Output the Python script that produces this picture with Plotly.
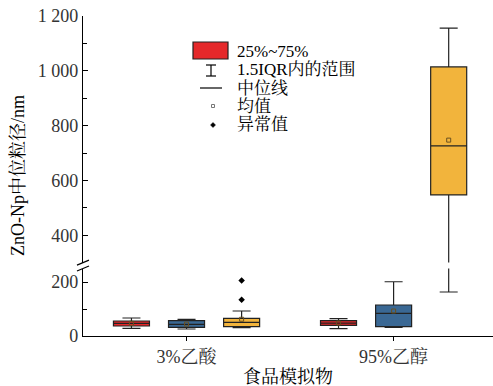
import plotly.graph_objects as go

# ---------------- data ----------------
categories = ["3%乙酸", "95%乙醇"]
series_names = ["red", "blue", "yellow"]
series_colors = ["#E5282A", "#3A6894", "#F2B43C"]

red_q1 = [37, 39.6]
red_median = [47, 48]
red_q3 = [55.6, 56.7]
red_lo = [28.5, 27]
red_hi = [66.7, 64]
red_mean = [47, 48]

blue_q1 = [32, 34.4]
blue_median = [43, 84]
blue_q3 = [56.7, 114.8]
blue_lo = [26, 32]
blue_hi = [61.7, 201]
blue_mean = [44, 92.6]

yellow_q1 = [34.4, 547]
yellow_median = [50.7, 726]
yellow_q3 = [65.5, 1014]
yellow_lo = [30.7, 163]
yellow_hi = [92.6, 1156]
yellow_mean = [62, 747]

yellow_outlier_cat = [0, 0]
yellow_outlier_val = [134, 206]

lower_ticks = [0, 200]
upper_ticks = [400, 600, 800, 1000, 1200]
lower_ticktext = ["0", "200"]
upper_ticktext = ["400", "600", "800", "1 000", "1 200"]

legend_labels = ["25%~75%", "1.5IQR内的范围", "中位线", "均值", "异常值"]

# ---------------- layout constants ----------------
W, H = 493, 386
ML, MR, MT, MB = 83, 0, 16, 50
PW, PH = W - ML - MR, H - MT - MB
offsets = [-0.266, 0.0, 0.266]
box_w = 0.174
FONT = "Liberation Serif, 'Times New Roman', 'Noto Serif CJK SC', 'Noto Sans CJK SC', serif"
TICKCOL = "#333333"


def px(x):
    return (x - ML) / PW


def py(y):
    return (H - MB - y) / PH


stats = [
    (red_q1, red_median, red_q3, red_lo, red_hi, red_mean),
    (blue_q1, blue_median, blue_q3, blue_lo, blue_hi, blue_mean),
    (yellow_q1, yellow_median, yellow_q3, yellow_lo, yellow_hi, yellow_mean),
]

fig = go.Figure()
for axis in ["y", "y2"]:
    for i, (q1, med, q3, lo, hi, mean) in enumerate(stats):
        xs = [c + 1 + offsets[i] for c in range(len(categories))]
        fig.add_trace(go.Box(
            x=xs, q1=q1, median=med, q3=q3, lowerfence=lo, upperfence=hi,
            width=box_w, fillcolor=series_colors[i],
            line=dict(color="#222222", width=1.2), whiskerwidth=0.5,
            boxpoints=False, showlegend=False, name=series_names[i],
            xaxis="x", yaxis=axis, hoverinfo="skip",
        ))
        fig.add_trace(go.Scatter(
            x=xs, y=mean, mode="markers",
            marker=dict(symbol="square-open", size=4, color="#6a5020",
                        line=dict(width=1)),
            showlegend=False, xaxis="x", yaxis=axis, hoverinfo="skip",
        ))
    fig.add_trace(go.Scatter(
        x=[c + 1 + offsets[2] for c in yellow_outlier_cat], y=yellow_outlier_val,
        mode="markers", marker=dict(symbol="diamond", size=5, color="black"),
        showlegend=False, xaxis="x", yaxis=axis, hoverinfo="skip",
    ))

lower_top = 67.5 / PH
upper_bot = 73.4 / PH

axis_common = dict(
    showline=True, linecolor="black", linewidth=1.2, ticks="inside",
    ticklen=5, tickwidth=1.2, tickcolor="black", showgrid=False, zeroline=False,
    tickfont=dict(family=FONT, size=18, color=TICKCOL),
    minor=dict(dtick=100, ticks="inside", ticklen=4, tickwidth=1.2, tickcolor="black", showgrid=False),
)

fig.update_layout(
    width=W, height=H,
    margin=dict(l=ML, r=MR, t=MT, b=MB, pad=0),
    paper_bgcolor="white", plot_bgcolor="white",
    font=dict(family=FONT, size=18, color="black"),
    xaxis=dict(
        range=[0.5, 2.48], tickvals=[1, 2], ticktext=categories,
        showline=True, linecolor="black", linewidth=1.2, ticks="outside",
        ticklen=4, tickwidth=1.2, tickcolor="black", showgrid=False, zeroline=False,
        tickfont=dict(family=FONT, size=18, color=TICKCOL), anchor="y",
    ),
    yaxis=dict(domain=[0, lower_top], range=[0, 250], tickvals=lower_ticks,
               ticktext=lower_ticktext, anchor="x", **axis_common),
    yaxis2=dict(domain=[upper_bot, 1], range=[300, 1200], tickvals=upper_ticks,
                ticktext=upper_ticktext, anchor="x", **axis_common),
)

shapes = []
# axis break marks
for yc in [262.6, 268.5]:
    shapes.append(dict(type="line", xref="paper", yref="paper",
                       x0=px(77), y0=py(yc + 2.5), x1=px(89), y1=py(yc - 2.5),
                       line=dict(color="black", width=1.2)))
# legend symbols
shapes.append(dict(type="rect", xref="paper", yref="paper",
                   x0=px(193), x1=px(228), y0=py(59), y1=py(42),
                   fillcolor=series_colors[0], line=dict(color="#222222", width=1.2)))
shapes.append(dict(type="line", xref="paper", yref="paper",
                   x0=px(211), x1=px(211), y0=py(65), y1=py(76),
                   line=dict(color="black", width=1.2)))
for yy in [65, 76]:
    shapes.append(dict(type="line", xref="paper", yref="paper",
                       x0=px(206), x1=px(216), y0=py(yy), y1=py(yy),
                       line=dict(color="black", width=1.2)))
shapes.append(dict(type="line", xref="paper", yref="paper",
                   x0=px(200), x1=px(222), y0=py(88), y1=py(88),
                   line=dict(color="black", width=1.2)))
shapes.append(dict(type="rect", xref="paper", yref="paper",
                   x0=px(211.5), x1=px(214.5), y0=py(107.5), y1=py(104.5),
                   line=dict(color="#777777", width=1)))
shapes.append(dict(type="path", xref="paper", yref="paper",
                   path="M {a},{b} L {c},{d} L {a},{e} L {f},{d} Z".format(
                       a=px(213), b=py(122.5), c=px(215.5), d=py(125), e=py(127.5), f=px(210.5)),
                   fillcolor="black", line=dict(color="black", width=0.5)))

annotations = []
for lab, yc in zip(legend_labels, [51, 69, 88, 106, 125]):
    annotations.append(dict(text=lab, xref="paper", yref="paper", x=px(235), y=py(yc),
                            xanchor="left", yanchor="middle", showarrow=False,
                            font=dict(family=FONT, size=17, color="black")))
annotations.append(dict(text="食品模拟物", xref="paper", yref="paper", x=px(288), y=py(377),
                        xanchor="center", yanchor="middle", showarrow=False,
                        font=dict(family=FONT, size=18, color="black")))
annotations.append(dict(text="ZnO-Np中位粒径/nm", xref="paper", yref="paper", x=px(18), y=py(176),
                        xanchor="center", yanchor="middle", showarrow=False, textangle=-90,
                        font=dict(family=FONT, size=18, color="black")))

fig.update_layout(shapes=shapes, annotations=annotations)
fig.write_html("out.html")
